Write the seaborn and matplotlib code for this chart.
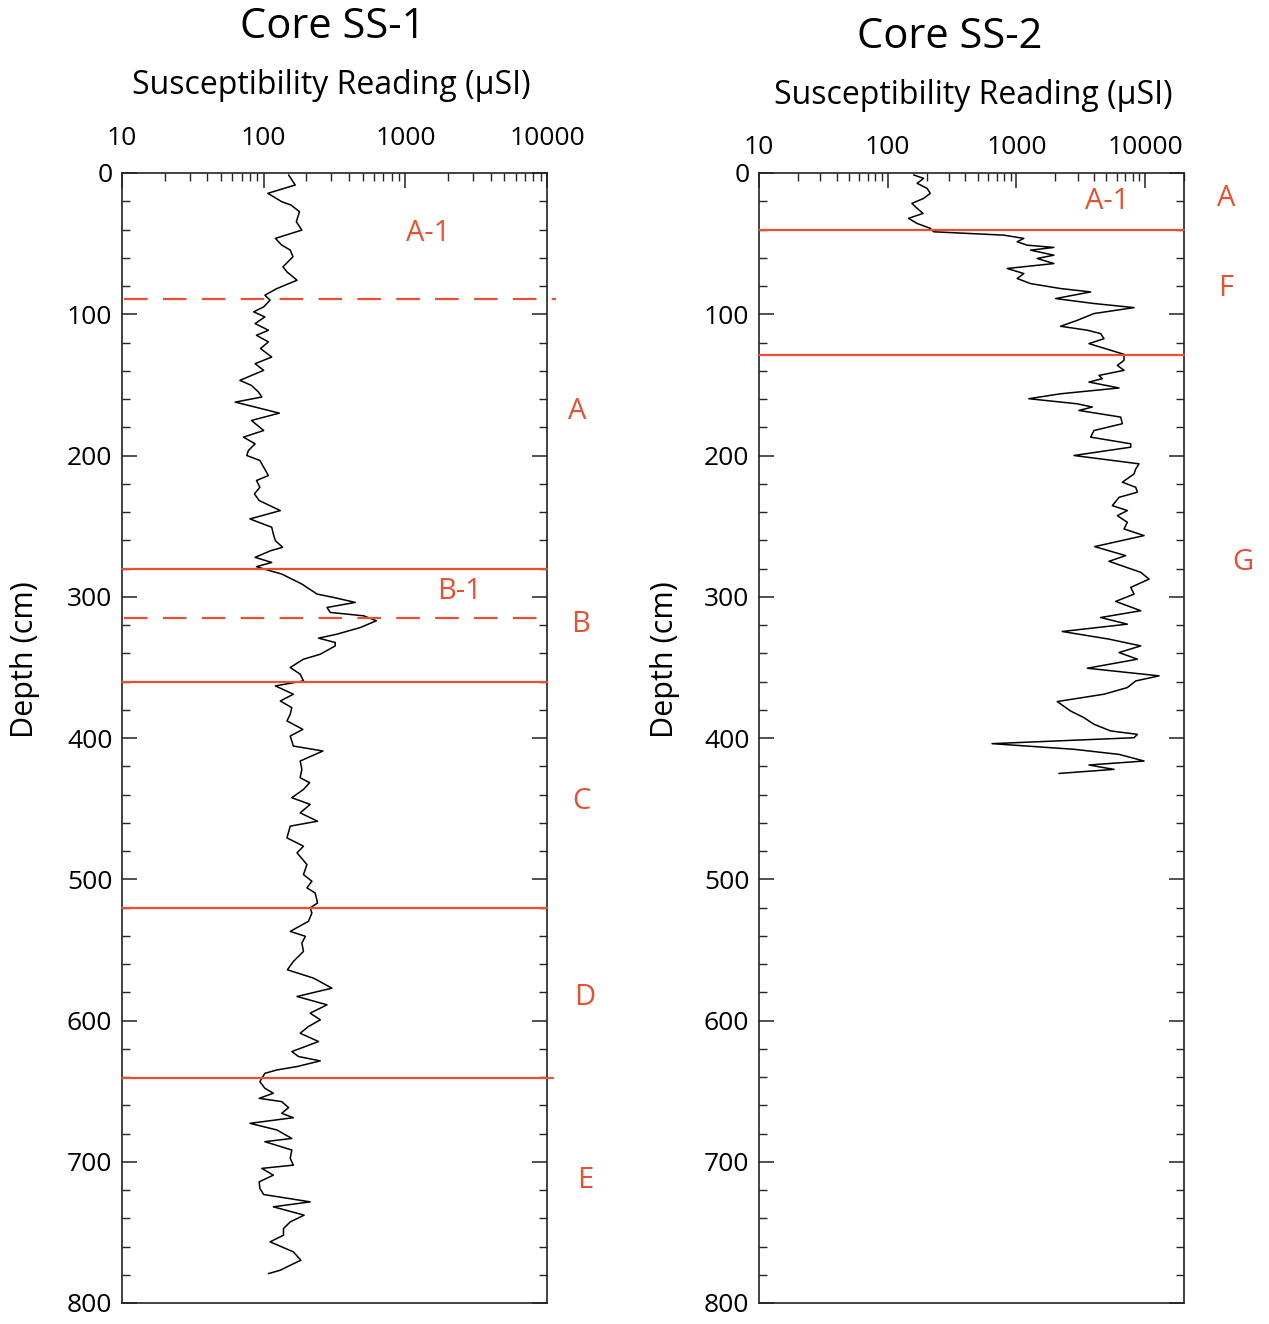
import matplotlib
matplotlib.use("Agg")
import matplotlib.pyplot as plt
import matplotlib.transforms as mtransforms
from matplotlib.ticker import LogLocator, NullFormatter, MultipleLocator, FixedLocator
import numpy as np
import pandas as pd
import seaborn as sns

# ---------------- data ----------------
depth_ss1 = [1.4, 8.5, 14.4, 20.3, 22.7, 27.4, 34.5, 40.4, 46.3, 51, 54.6, 59.3, 66.4, 70, 75.9, 81.8,
             86.5, 90, 94.8, 98.3, 101.9, 106.6, 111.3, 114.9, 119.6, 124.3, 130.3, 135, 139.7, 146.8,
             150.4, 155.1, 158.6, 162.2, 170, 175.2, 182.3, 187, 191.7, 196.5, 200,
             203.5, 208.3, 214.2, 217.7, 222.5, 227.2, 231.9, 239, 244.9, 250.8, 255.6, 260.3, 265,
             267.4, 272.1, 275.7, 278.7, 281.6, 283.9, 291, 298.1, 300.5, 304, 307.6, 311.1, 313.5,
             317, 321.8, 326.5, 329.3, 332.4, 334.8, 340.7, 344.2, 350.1, 354.8, 359.6, 363.1, 369,
             373.8, 378.5, 383.2, 387.9, 393.9, 398.6,
             402.1, 405.7, 409.2, 416.3, 422.2, 428.1, 431.7, 436.4, 442.3, 447, 453, 458.9, 462.4,
             470.7, 476.6, 481.3, 489.6, 496.7, 501.4, 506.1, 509.7, 516.8, 520.3, 523.9, 529.8,
             536.9, 540.4, 545.2, 551.1, 558.2, 564.1, 570, 577.1, 583, 588.9, 594.8, 599.5,
             604.3, 609, 614.9, 622, 625.5, 628.6, 632.6, 635, 637.4, 643.3, 648, 651.5, 655.1,
             657.4, 661.7, 665.7, 668.8, 672.8, 677.5, 683.5, 685.8, 691.7, 697.6, 702.4, 704.7,
             709.5, 714.2, 718.9, 723.2, 728.4, 731.9, 737.8, 742.6, 747.3, 752, 756.7, 763.8,
             769.7, 773.3, 776.8, 779.2]
sus_ss1 = [150, 167, 107, 134, 156, 179, 170, 186, 121, 134, 154, 161, 137, 146, 172, 124,
           102, 111, 100, 85, 102, 87, 108, 89, 108, 95, 114, 87, 100, 68,
           82, 92, 97, 63, 129, 82, 100, 72, 87, 78, 76,
           94, 100, 108, 89, 94, 86, 93, 131, 80, 114, 117, 121, 136,
           112, 87, 114, 89, 111, 134, 186, 238, 312, 443, 280, 295, 508,
           624, 481, 329, 244, 320, 320, 251, 191, 154, 181, 191, 121, 162,
           131, 158, 154, 146, 189, 154,
           158, 162, 262, 181, 186, 181, 211, 191, 158, 213, 181, 240, 154,
           146, 191, 172, 202, 191, 219, 202, 231, 240, 213, 219, 207,
           154, 197, 186, 191, 162, 147, 225, 303, 172, 280, 213, 251,
           207, 181, 244, 158, 176, 251, 172, 124, 102, 94, 102, 117, 93,
           134, 150, 134, 162, 80, 124, 158, 102, 158, 154, 162, 97,
           117, 93, 94, 100, 213, 117, 193, 154, 138, 138, 111, 162,
           183, 154, 131, 108]

depth_ss2 = [1.4, 3.8, 7.3, 10.9, 14.4, 18, 21.5, 25, 28.6, 32.1, 35.7, 39.2, 41.6, 44, 46.3, 48.7,
             51.1, 52.7, 54.6, 58.2, 60.5, 64.1, 67.6, 71.2, 74.7, 78.3, 81.8, 84.2, 88.9, 92.4,
             95.3, 99.5, 104.3, 108.5, 111.3, 113.7, 117.3, 120.8, 125.5, 128.4,
             132.6, 136.2, 139.7, 143.3, 145.6, 148, 152.2, 156.3, 159.8, 163.4, 165.7, 168.1,
             172.8, 177.5, 182.3, 187, 191.7,
             194.1, 200, 205.9, 209.5, 213, 218.9, 222.5, 226, 229.6, 235.5, 239, 242.6, 247.3,
             252, 256.7, 264.5, 270.9, 274.9, 282.7, 287.5, 293.4, 298.1, 303.3, 309.9, 314.7,
             319.4, 324.6, 330, 334.8, 339.5, 344.2, 350.6, 356, 359.6, 364.3, 369, 374.2, 380.9,
             385.6, 390.3, 395, 397.4, 399.8, 404, 408, 411.6, 416.3, 419.1, 420.6, 422.2, 425.1]
sus_ss2 = [159, 190, 169, 202, 214, 190, 154, 169, 188, 145, 169, 214, 227, 797, 1140, 1012,
           1211, 1952, 1285, 1952, 1448, 1952, 846, 1140, 1012, 1285, 2200, 3767, 2012, 4000,
           8188, 4000, 2966, 2200, 3548, 4505, 4782, 3656, 5390, 6844,
           6844, 6073, 6844, 4372, 4642, 3656, 6258, 2200, 1247, 2966, 3880, 3056,
           6447, 6642, 4000, 3767, 7714,
           7714, 2794, 8954, 8433, 8188, 6642, 8433, 8690, 6258, 5552, 7264, 6073, 7264,
           6844, 9793, 4046, 7050, 5230, 9226, 10710, 7714, 8188, 5895, 9226, 4505,
           7264, 2267, 5230, 9226, 6258, 8690, 3548, 12810, 8433, 7264, 4782, 2072, 2632,
           3342, 4000, 5390, 8690, 8188, 646, 2794, 6258, 9793, 3656, 4505, 5722, 2135]

xtick_values = [10, 100, 1000, 10000]
xtick_labels = ["10", "100", "1000", "10000"]

# zone boundaries (depth cm)
ss1_solid = [280, 360, 520, 641]
ss1_dashed = [89, 315]
ss2_solid = [40, 129]

ss1_zone_labels = ["A-1", "A", "B-1", "B", "C", "D", "E"]
ss1_zone_depths = [43, 169, 296, 320, 445, 584, 713]
ss2_zone_labels = ["A-1", "A", "F", "G"]
ss2_zone_depths = [20, 18, 82, 276]

# ---------------- style ----------------
sns.set_theme(style="ticks")
plt.rcParams["font.family"] = ["Open Sans", "DejaVu Sans"]
plt.rcParams["lines.scale_dashes"] = False
plt.rcParams["text.color"] = "black"

RED = "#e8502f"
W, H = 1269, 1324
fig = plt.figure(figsize=(W / 100, H / 100), dpi=100)
fig.patch.set_facecolor("white")

ax1 = fig.add_axes([122 / W, 1 - 1303 / H, 425 / W, 1130 / H])
ax2 = fig.add_axes([759 / W, 1 - 1303 / H, 425 / W, 1130 / H])

df1 = pd.DataFrame({"depth": depth_ss1, "sus": sus_ss1})
df2 = pd.DataFrame({"depth": depth_ss2, "sus": sus_ss2})

sns.lineplot(data=df1, x="sus", y="depth", orient="y", estimator=None, sort=False,
             color="black", linewidth=1.1, ax=ax1)
sns.lineplot(data=df2, x="sus", y="depth", orient="y", estimator=None, sort=False,
             color="black", linewidth=1.1, ax=ax2)


def style_axis(ax, xmax, pad):
    ax.set_xscale("log")
    ax.set_xlim(10, xmax)
    ax.set_ylim(800, 0)
    ax.set_xlabel("")
    ax.set_ylabel("")
    ax.xaxis.set_ticks_position("top")
    ax.xaxis.set_major_locator(FixedLocator(xtick_values))
    ax.set_xticklabels(xtick_labels)
    ax.xaxis.set_minor_locator(LogLocator(base=10, subs=np.arange(2, 10)))
    ax.xaxis.set_minor_formatter(NullFormatter())
    ax.yaxis.set_major_locator(MultipleLocator(100))
    ax.yaxis.set_minor_locator(MultipleLocator(20))
    ax.tick_params(axis="x", which="major", direction="in", length=11, width=1.1,
                   top=True, bottom=False, labeltop=True, labelbottom=False,
                   labelsize=19, pad=pad, colors="#222222", labelcolor="black")
    ax.tick_params(axis="x", which="minor", direction="in", length=5.5, width=1.0,
                   top=True, bottom=False)
    ax.tick_params(axis="y", which="major", direction="in", length=11, width=1.1,
                   left=True, right=True, labelleft=True, labelsize=19, pad=7,
                   colors="#222222", labelcolor="black")
    ax.tick_params(axis="y", which="minor", direction="in", length=5.5, width=1.0,
                   left=True, right=True)
    for s in ax.spines.values():
        s.set_visible(True)
        s.set_linewidth(1.2)
        s.set_color("#222222")
    ax.set_facecolor("white")


style_axis(ax1, 10000, 16)
style_axis(ax2, 20000, 9)

# zone lines
for d in ss1_solid:
    xr = 11100 if d == 641 else 10000
    ax1.plot([10, xr], [d, d], color=RED, lw=1.6, clip_on=False, zorder=3)
for d in ss1_dashed:
    xr = 11500 if d == 89 else 10000
    ax1.plot([10.3, xr], [d, d], color=RED, lw=1.6, dashes=(17, 11), clip_on=False, zorder=3)
for d in ss2_solid:
    ax2.plot([10, 20000], [d, d], color=RED, lw=1.6, clip_on=False, zorder=3)

# zone labels
ss1_xfrac = [0.72, 1.071, 0.795, 1.078, 1.082, 1.089, 1.089]
for lab, d, xf in zip(ss1_zone_labels, ss1_zone_depths, ss1_xfrac):
    tr = mtransforms.blended_transform_factory(ax1.transAxes, ax1.transData)
    ax1.text(xf, d, lab, transform=tr, color=RED, fontsize=21, ha="center", va="center")
ss2_xfrac = [0.819, 1.099, 1.099, 1.139]
for lab, d, xf in zip(ss2_zone_labels, ss2_zone_depths, ss2_xfrac):
    tr = mtransforms.blended_transform_factory(ax2.transAxes, ax2.transData)
    ax2.text(xf, d, lab, transform=tr, color=RED, fontsize=21, ha="center", va="center")

# titles and axis labels
fig.text(333 / W, 1 - 27 / H, "Core SS-1", fontsize=30, ha="center", va="center", color="black")
fig.text(950 / W, 1 - 37 / H, "Core SS-2", fontsize=30, ha="center", va="center", color="black")
fig.text(331 / W, 1 - 85 / H, "Susceptibility Reading (\u00b5SI)", fontsize=23, ha="center", va="center", color="black")
fig.text(973 / W, 1 - 95 / H, "Susceptibility Reading (\u00b5SI)", fontsize=23, ha="center", va="center", color="black")
fig.text(25 / W, 1 - 660 / H, "Depth (cm)", fontsize=22, rotation=90, ha="center", va="center", color="black")
fig.text(665 / W, 1 - 660 / H, "Depth (cm)", fontsize=22, rotation=90, ha="center", va="center", color="black")

fig.savefig("out.png", dpi=100, facecolor="white")
